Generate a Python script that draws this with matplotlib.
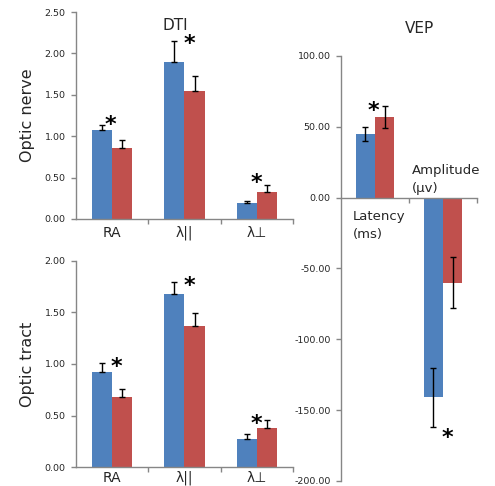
import matplotlib
matplotlib.use("Agg")
import matplotlib.pyplot as plt
import numpy as np

# ---- data ----
dti_categories = ["RA", "λ||", "λ⊥"]
nerve_blue = [1.08, 1.90, 0.19]
nerve_blue_err = [0.05, 0.25, 0.03]
nerve_red = [0.86, 1.55, 0.33]
nerve_red_err = [0.09, 0.18, 0.08]

tract_blue = [0.92, 1.68, 0.27]
tract_blue_err = [0.09, 0.11, 0.05]
tract_red = [0.68, 1.37, 0.38]
tract_red_err = [0.08, 0.12, 0.08]

vep_categories = ["Latency\n(ms)", "Amplitude\n(µv)"]
vep_blue = [45.0, -141.0]
vep_blue_err = [4.7, 21.0]
vep_red = [57.0, -60.0]
vep_red_err = [7.7, 18.0]

nerve_ticks = [0.0, 0.5, 1.0, 1.5, 2.0, 2.5]
tract_ticks = [0.0, 0.5, 1.0, 1.5, 2.0]
vep_ticks = [-200, -150, -100, -50, 0, 50, 100]

# ---- style ----
BLUE = "#4F81BD"
RED = "#C0504D"
SPINE = "#868686"
TXT = "#262626"
W = 0.28

fig = plt.figure(figsize=(4.95, 4.86), dpi=100)
plt.rcParams['font.family'] = ['DejaVu Sans']


def style_axes(ax):
    for s in ["top", "right"]:
        ax.spines[s].set_visible(False)
    for s in ["left", "bottom"]:
        ax.spines[s].set_color(SPINE)
        ax.spines[s].set_linewidth(1.0)
    ax.tick_params(axis="y", which="major", direction="out", length=3.5, width=1,
                   color=SPINE, labelsize=6.8, labelcolor=TXT, pad=4)
    ax.tick_params(axis="x", which="major", direction="out", length=3.5, width=1,
                   color=SPINE)


def star(ax, x, y, fs=16):
    ax.annotate("*", xy=(x, y), xytext=(0, -0.62 * fs), textcoords="offset points",
                ha="center", va="baseline", fontsize=fs, fontweight="bold", color="black")


def dti_panel(ax, blue, blue_err, red, red_err, ticks, ylabel, stars, label_pad):
    x = np.arange(len(dti_categories))
    ax.bar(x - W / 2, blue, W, color=BLUE, zorder=2)
    ax.bar(x + W / 2, red, W, color=RED, zorder=2)
    ax.errorbar(x - W / 2, blue, yerr=[np.zeros(len(blue)), blue_err], fmt="none",
                ecolor="black", elinewidth=1, capsize=2.5, capthick=1, zorder=3)
    ax.errorbar(x + W / 2, red, yerr=[np.zeros(len(red)), red_err], fmt="none",
                ecolor="black", elinewidth=1, capsize=2.5, capthick=1, zorder=3)
    ax.set_xlim(-0.5, len(x) - 0.5)
    ax.set_ylim(ticks[0], ticks[-1])
    ax.set_yticks(ticks)
    ax.set_yticklabels([f"{t:.2f}" for t in ticks])
    ax.set_xticks(np.arange(len(x)) + 0.5)
    ax.set_xticklabels([])
    ax.set_xticks(x, minor=True)
    ax.set_xticklabels(dti_categories, minor=True)
    ax.tick_params(axis="x", which="minor", length=0, labelsize=10, labelcolor=TXT,
                   pad=label_pad)
    ax.set_ylabel(ylabel, fontsize=11.5, color=TXT, labelpad=7)
    style_axes(ax)
    for sx, sy in stars:
        star(ax, sx, sy)


ax1 = fig.add_axes([0.1535, 0.5494, 0.4384, 0.4259])
dti_panel(ax1, nerve_blue, nerve_blue_err, nerve_red, nerve_red_err, nerve_ticks,
          "Optic nerve", [(-0.03, 1.23), (1.07, 2.21), (1.99, 0.53)], 5)
ax1.text(0.46, 0.97, "DTI", transform=ax1.transAxes, ha="center", va="top",
         fontsize=11, color=TXT)

ax2 = fig.add_axes([0.1535, 0.0385, 0.4384, 0.4251])
dti_panel(ax2, tract_blue, tract_blue_err, tract_red, tract_red_err, tract_ticks,
          "Optic tract", [(0.06, 1.05), (1.07, 1.83), (1.99, 0.49)], 2.5)

# ---- VEP ----
ax3 = fig.add_axes([0.6889, 0.0103, 0.2747, 0.8745])
xv = np.arange(len(vep_categories))
ax3.bar(xv - W / 2, vep_blue, W, color=BLUE, zorder=2)
ax3.bar(xv + W / 2, vep_red, W, color=RED, zorder=2)
ax3.errorbar(xv - W / 2, vep_blue, yerr=vep_blue_err, fmt="none", ecolor="black",
             elinewidth=1, capsize=2.5, capthick=1, zorder=3)
ax3.errorbar(xv + W / 2, vep_red, yerr=vep_red_err, fmt="none", ecolor="black",
             elinewidth=1, capsize=2.5, capthick=1, zorder=3)
ax3.set_xlim(-0.5, len(xv) - 0.5)
ax3.set_ylim(vep_ticks[0], vep_ticks[-1])
ax3.set_yticks(vep_ticks)
ax3.set_yticklabels([f"{t:.2f}" for t in vep_ticks])
ax3.set_xticks(xv + 0.5)
ax3.set_xticklabels([])
style_axes(ax3)
ax3.spines["bottom"].set_position(("data", 0))
ax3.text(-0.32, -9, vep_categories[0], ha="left", va="top", fontsize=9.5, color=TXT,
         linespacing=1.45)
ax3.text(0.54, 2, vep_categories[1], ha="left", va="bottom", fontsize=9.5, color=TXT,
         linespacing=1.45)
star(ax3, -0.02, 67)
star(ax3, 1.06, -164)
ax3.text(0.58, 1.082, "VEP", transform=ax3.transAxes, ha="center", va="top",
         fontsize=11, color=TXT)

fig.savefig("out.png", dpi=100)
